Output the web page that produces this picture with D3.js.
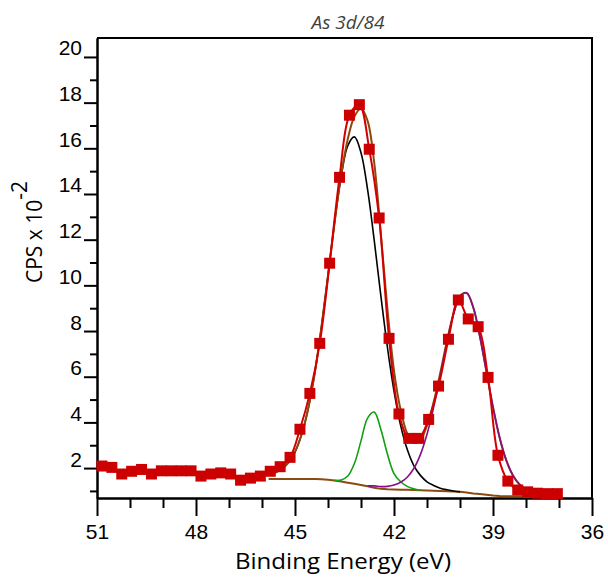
<!doctype html>
<meta charset="utf8">
<style>
  body { margin: 0; background: #fff; }
  svg { display: block; font-family: "Open Sans", "Liberation Sans", sans-serif; }
  .axis text { font-size: 21px; fill: #000; }
  .axis path, .axis line { stroke: #000; stroke-width: 2px; }
  .curve { fill: none; }
</style>
<body>
<div id="chart"></div>
<script src="https://d3js.org/d3.v7.min.js"></script>
<script>
(function() {

const TITLE = "As 3d/84";
const X_TICKS = [51, 48, 45, 42, 39, 36];
const X_MINOR = [50, 49, 47, 46, 44, 43, 41, 40, 38, 37];
const Y_TICKS = [2, 4, 6, 8, 10, 12, 14, 16, 18, 20];
const Y_MINOR = [1, 3, 5, 7, 9, 11, 13, 15, 17, 19];

// measured spectrum (red squares)
const bindingEnergy = [50.85, 50.55, 50.25, 49.95, 49.65, 49.35, 49.05, 48.75, 48.45, 48.15,
  47.85, 47.55, 47.25, 46.95, 46.65, 46.35, 46.05, 45.75, 45.45, 45.15,
  44.85, 44.55, 44.25, 43.95, 43.65, 43.35, 43.05, 42.75, 42.45, 42.15,
  41.85, 41.55, 41.25, 40.95, 40.65, 40.35, 40.05, 39.75, 39.45, 39.15,
  38.85, 38.55, 38.25, 37.95, 37.65, 37.35, 37.05];
const cps = [2.09, 2.03, 1.74, 1.86, 1.94, 1.74, 1.88, 1.88, 1.88, 1.88,
  1.65, 1.74, 1.79, 1.74, 1.47, 1.56, 1.65, 1.86, 2.06, 2.47,
  3.70, 5.27, 7.46, 10.97, 14.73, 17.45, 17.91, 15.96, 12.95, 7.68,
  4.37, 3.30, 3.30, 4.13, 5.59, 7.64, 9.36, 8.53, 8.19, 5.97,
  2.56, 1.43, 1.04, 0.96, 0.90, 0.88, 0.88];

// fitted components
const fitEnergy = [45.8, 45.6, 45.4, 45.2, 45.0, 44.8, 44.6, 44.4, 44.2, 44.0,
  43.8, 43.6, 43.4, 43.2, 43.0, 42.8, 42.6, 42.4, 42.2, 42.0,
  41.8, 41.6, 41.4, 41.2, 41.0, 40.8, 40.6, 40.4, 40.2, 40.0,
  39.8, 39.6, 39.4, 39.2, 39.0, 38.8, 38.6, 38.4, 38.2, 38.0,
  37.8, 37.6, 37.4, 37.2, 37.0];
const background = [1.52, 1.52, 1.52, 1.52, 1.52, 1.52, 1.52, 1.52, 1.51, 1.49,
  1.46, 1.41, 1.36, 1.31, 1.26, 1.20, 1.14, 1.09, 1.07, 1.06,
  1.05, 1.05, 1.04, 1.03, 1.02, 1.01, 1.00, 0.99, 0.98, 0.96,
  0.93, 0.89, 0.86, 0.83, 0.80, 0.78, 0.77, 0.77, 0.77, 0.77,
  0.77, 0.77, 0.77, 0.77, 0.77];
const peakMain = [1.70, 1.80, 1.96, 2.24, 2.71, 3.47, 4.60, 6.17, 8.16, 10.43,
  12.76, 14.77, 16.12, 16.50, 15.81, 14.19, 11.98, 9.56, 7.29, 5.37,
  3.87, 2.82, 2.11, 1.68, 1.40, 1.24, 1.12, 1.05, 1.00, 0.96,
  null, null, null, null, null, null, null, null, null, null,
  null, null, null, null, null];
const peakShoulder = [null, null, null, null, null, null, null, null, null, null,
  1.46, 1.48, 1.65, 2.20, 3.19, 4.19, 4.45, 3.70, 2.62, 1.76,
  1.40, 1.20, 1.09, 1.03, null, null, null, null, null, null,
  null, null, null, null, null, null, null, null, null, null,
  null, null, null, null, null];
const peakLow = [null, null, null, null, null, null, null, null, null, null,
  null, null, null, null, null, 1.22, 1.22, 1.19, 1.20, 1.26,
  1.38, 1.60, 1.98, 2.59, 3.48, 4.65, 6.03, 7.47, 8.72, 9.53,
  9.67, 9.04, 7.78, 6.23, 4.67, 3.34, 2.35, 1.69, 1.29, 1.06,
  0.95, 0.89, 0.86, 0.84, 0.83];

const width = 608;
const height = 578;
const plot = {left: 97, right: 592, top: 38, bottom: 498};

const x = d3.scaleLinear().domain([51, 36]).range([plot.left, plot.right]);
const y = d3.scaleLinear().domain([0.69, 20.83]).range([plot.bottom, plot.top]);

const svg = d3.select("#chart").append("svg")
  .attr("width", width)
  .attr("height", height);

// frame top + right
svg.append("path")
  .attr("d", `M${plot.left},${plot.top}H${plot.right}V${plot.bottom}`)
  .attr("fill", "none")
  .attr("stroke", "#000")
  .attr("stroke-width", 2);

svg.append("g")
  .attr("class", "axis")
  .attr("transform", `translate(0,${plot.bottom})`)
  .call(d3.axisBottom(x).tickValues(X_MINOR).tickSize(10).tickSizeOuter(0).tickFormat(""));

svg.append("g")
  .attr("class", "axis")
  .attr("transform", `translate(0,${plot.bottom})`)
  .call(d3.axisBottom(x).tickValues(X_TICKS).tickSize(18).tickSizeOuter(0).tickPadding(8));

svg.append("g")
  .attr("class", "axis")
  .attr("transform", `translate(${plot.left},0)`)
  .call(d3.axisLeft(y).tickValues(Y_MINOR).tickSize(7).tickSizeOuter(0).tickFormat(""));

svg.append("g")
  .attr("class", "axis")
  .attr("transform", `translate(${plot.left},0)`)
  .call(d3.axisLeft(y).tickValues(Y_TICKS).tickSize(13).tickSizeOuter(0).tickPadding(2))
  .selectAll("text")
    .attr("dy", "-2px");

svg.append("text")
  .attr("x", 348)
  .attr("y", 29)
  .attr("text-anchor", "middle")
  .attr("font-size", 19)
  .attr("font-style", "italic")
  .attr("fill", "#404040")
  .text(TITLE);

svg.append("text")
  .attr("x", 343)
  .attr("y", 569)
  .attr("text-anchor", "middle")
  .attr("font-size", 21)
  .attr("textLength", 216)
  .attr("lengthAdjust", "spacingAndGlyphs")
  .text("Binding Energy (eV)");

const ylab = svg.append("text")
  .attr("transform", "translate(42,283) rotate(-90)")
  .attr("font-size", 21);
ylab.append("tspan").text("CPS x 10");
ylab.append("tspan").attr("dy", "-15").text("-2");

// curves
function curveLine(values) {
  return d3.line()
    .defined(d => d[1] != null)
    .x(d => x(d[0]))
    .y(d => y(d[1]))
    .curve(d3.curveCatmullRom.alpha(0.5))(fitEnergy.map((e, i) => [e, values[i]]));
}

const components = [peakMain, peakShoulder, peakLow];
const envelope = fitEnergy.map((e, i) =>
  background[i] + d3.sum(components, p => p[i] == null ? 0 : p[i] - background[i]));

const g = svg.append("g");

g.append("path").attr("class", "curve")
  .attr("d", d3.line().x((d, i) => x(fitEnergy[i])).y(d => y(d))(background))
  .attr("stroke", "#8b4a10").attr("stroke-width", 2);

g.append("path").attr("class", "curve").attr("d", curveLine(peakMain))
  .attr("stroke", "#000").attr("stroke-width", 1.6);
g.append("path").attr("class", "curve").attr("d", curveLine(peakShoulder))
  .attr("stroke", "#10a010").attr("stroke-width", 1.6);
g.append("path").attr("class", "curve").attr("d", curveLine(envelope))
  .attr("stroke", "#8b4a10").attr("stroke-width", 2);
g.append("path").attr("class", "curve").attr("d", curveLine(peakLow))
  .attr("stroke", "#850f85").attr("stroke-width", 1.6);

g.append("path").attr("class", "curve")
  .attr("d", d3.line()
    .x((d, i) => x(bindingEnergy[i]))
    .y(d => y(d))
    .curve(d3.curveCatmullRom.alpha(0.5))(cps))
  .attr("stroke", "#d40000").attr("stroke-width", 2);

const size = 11;
g.selectAll(".pt")
  .data(cps)
  .join("rect")
    .attr("class", "pt")
    .attr("x", (d, i) => x(bindingEnergy[i]) - size / 2)
    .attr("y", d => y(d) - size / 2)
    .attr("width", size)
    .attr("height", size)
    .attr("fill", "#cc0000");

})();
</script>
